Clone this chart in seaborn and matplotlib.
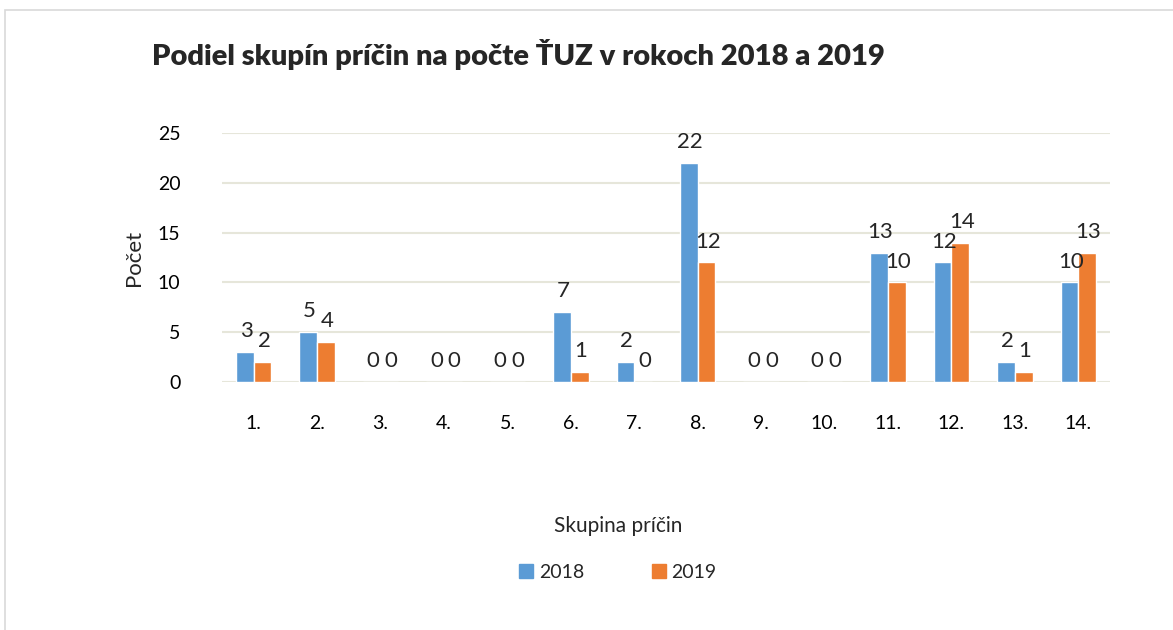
import matplotlib
matplotlib.use("Agg")
import matplotlib.pyplot as plt
import seaborn as sns
import pandas as pd
from matplotlib.patches import Rectangle, Patch

categories = ["1.", "2.", "3.", "4.", "5.", "6.", "7.", "8.", "9.", "10.", "11.", "12.", "13.", "14."]
values_2018 = [3, 5, 0, 0, 0, 7, 2, 22, 0, 0, 13, 12, 2, 10]
values_2019 = [2, 4, 0, 0, 0, 1, 0, 12, 0, 0, 10, 14, 1, 13]
years = ["2018", "2019"]
colors = ["#5B9BD5", "#ED7D31"]

df = pd.DataFrame({
    "Skupina": categories * 2,
    "Počet": values_2018 + values_2019,
    "Rok": [years[0]] * len(categories) + [years[1]] * len(categories),
})

sns.set_theme(style="white")
plt.rcParams["font.family"] = ["Lato", "DejaVu Sans"]

fig = plt.figure(figsize=(11.73, 6.30), dpi=100)
ax = fig.add_axes([222 / 1173, 1 - 382 / 630, 888 / 1173, (382 - 133) / 630])

sns.barplot(data=df, x="Skupina", y="Počet", hue="Rok", palette=colors,
            width=0.56, ax=ax, legend=False, saturation=1)

ax.set_ylim(0, 25)
ax.set_xlim(-0.5, 13.5)
ax.set_yticks([0, 5, 10, 15, 20, 25])
for y in [0, 5, 10, 15, 20, 25]:
    ax.axhline(y, color="#e6e6da", lw=1.5, zorder=0)
for s in ax.spines.values():
    s.set_visible(False)
ax.tick_params(axis="both", length=0, labelsize=14, colors="black")
ax.tick_params(axis="x", pad=24)
ax.tick_params(axis="y", pad=30)
ax.set_xlabel("")
ax.set_ylabel("Počet", fontsize=16, labelpad=10)

for container in ax.containers:
    for bar in container:
        h = bar.get_height()
        ax.annotate(f"{int(h)}", (bar.get_x() + bar.get_width() / 2, h),
                    xytext=(1, 15), textcoords="offset points",
                    ha="center", va="center", fontsize=16)

fig.text(152 / 1173, 1 - 55 / 630, "Podiel skupín príčin na počte ŤUZ v rokoch 2018 a 2019",
         fontsize=21, fontweight="heavy", ha="left", va="center")
fig.text(618 / 1173, 1 - 526 / 630, "Skupina príčin", fontsize=15, ha="center", va="center")

handles = [Patch(color=c, label=l) for c, l in zip(colors, years)]
fig.legend(handles=handles, loc="center", bbox_to_anchor=(618 / 1173, 1 - 572 / 630),
           ncol=2, frameon=False, fontsize=14, handlelength=0.7, handleheight=0.7,
           handletextpad=0.3, columnspacing=3.5)

fig.patches.append(Rectangle((5 / 1173, -0.1), 1.1, 1 - 10 / 630 + 0.1, transform=fig.transFigure,
                             fill=False, edgecolor="#d9d9d9", lw=1.2))

fig.savefig("out.png", dpi=100, facecolor="white")
